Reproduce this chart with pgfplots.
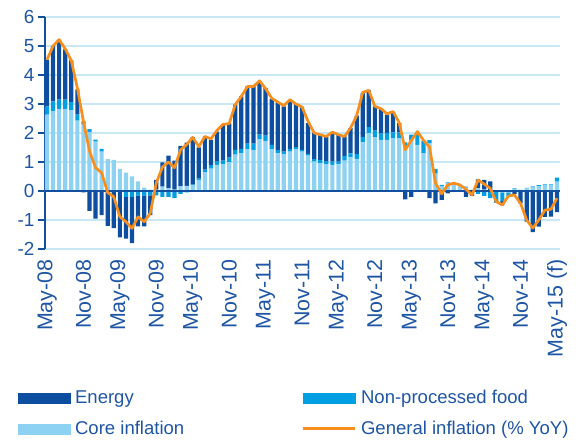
\documentclass[border=0pt]{standalone}
\usepackage{fontspec}
\setmainfont{Liberation Sans}
\usepackage{pgfplots}
\usepackage{pgfplotstable}
\pgfplotsset{compat=1.18}
\definecolor{energyc}{RGB}{13,78,160}
\definecolor{foodc}{RGB}{0,158,226}
\definecolor{corec}{RGB}{142,210,243}
\definecolor{genc}{RGB}{247,143,30}
\definecolor{axc}{RGB}{20,80,160}
\definecolor{gridc}{RGB}{200,232,246}
\definecolor{txtc}{RGB}{30,85,165}

\pgfplotstableread{
i core food energy gen
0 2.63 0.29 1.61 4.53
1 2.75 0.34 1.91 5.00
2 2.83 0.32 2.07 5.22
3 2.83 0.32 1.73 4.90
4 2.78 0.29 1.43 4.50
5 2.43 0.20 0.87 3.55
6 2.30 0.10 -0.05 2.40
7 2.03 0.10 -0.69 1.38
8 1.70 0.07 -0.95 0.80
9 1.36 0.09 -0.83 0.63
10 1.10 0.00 -1.20 -0.06
11 1.07 0.00 -1.28 -0.20
12 0.76 0.00 -1.60 -0.89
13 0.63 -0.20 -1.44 -1.06
14 0.50 -0.20 -1.60 -1.29
15 0.33 -0.15 -1.07 -0.89
16 0.12 -0.15 -1.07 -1.06
17 0.05 -0.15 -0.68 -0.77
18 0.05 -0.15 0.33 0.28
19 0.15 -0.20 0.84 0.82
20 0.10 -0.20 1.12 1.00
21 0.05 -0.25 1.00 0.80
22 0.17 -0.10 1.39 1.42
23 0.18 -0.05 1.49 1.60
24 0.20 0.02 1.64 1.85
25 0.38 0.05 1.07 1.53
26 0.65 0.09 1.14 1.88
27 0.77 0.12 0.87 1.80
28 0.90 0.11 1.04 2.09
29 0.92 0.13 1.23 2.30
30 0.99 0.16 1.17 2.32
31 1.25 0.17 1.56 2.98
32 1.30 0.15 1.81 3.26
33 1.44 0.19 1.98 3.60
34 1.42 0.21 1.98 3.60
35 1.79 0.15 1.84 3.80
36 1.73 0.18 1.64 3.53
37 1.44 0.15 1.58 3.20
38 1.30 0.12 1.64 3.07
39 1.28 0.08 1.56 2.94
40 1.36 0.09 1.68 3.15
41 1.44 0.07 1.49 3.00
42 1.36 0.06 1.48 2.90
43 1.22 0.06 1.06 2.40
44 1.01 0.09 0.90 2.00
45 0.96 0.11 0.87 1.94
46 0.93 0.08 0.85 1.88
47 0.90 0.11 1.01 2.03
48 0.92 0.09 0.93 1.94
49 1.05 0.16 0.67 1.88
50 1.16 0.14 0.87 2.17
51 1.11 0.17 1.32 2.60
52 1.68 0.19 1.51 3.40
53 2.00 0.20 1.27 3.47
54 1.86 0.22 0.84 2.92
55 1.76 0.22 0.86 2.84
56 1.76 0.24 0.63 2.66
57 1.82 0.20 0.69 2.74
58 1.82 0.20 0.32 2.36
59 1.51 0.17 -0.29 1.42
60 1.76 0.18 -0.20 1.74
61 1.59 0.35 0.06 2.05
62 1.30 0.43 0.00 1.75
63 1.65 0.10 -0.25 1.52
64 0.60 0.16 -0.43 0.27
65 0.18 0.03 -0.31 -0.10
66 0.28 0.02 -0.08 0.21
67 0.27 0.00 0.00 0.27
68 0.20 0.00 0.00 0.21
69 0.12 0.03 -0.20 0.06
70 0.05 0.00 -0.17 -0.14
71 0.10 -0.10 0.30 0.38
72 0.05 -0.17 0.33 0.24
73 0.03 -0.25 0.30 0.09
74 0.00 -0.35 -0.05 -0.37
75 -0.05 -0.30 -0.15 -0.48
76 -0.05 -0.15 0.00 -0.17
77 0.07 0.02 -0.10 -0.14
78 0.05 0.00 -0.43 -0.43
79 0.12 0.00 -1.06 -1.00
80 0.15 0.02 -1.42 -1.28
81 0.17 0.03 -1.23 -1.00
82 0.20 0.03 -0.89 -0.66
83 0.20 0.03 -0.88 -0.63
84 0.32 0.14 -0.73 -0.25
}\data

\begin{document}
\begin{tikzpicture}
\begin{axis}[name=ax, scale only axis, width=515bp, height=232bp,
  xmin=-0.33, xmax=84.49, ymin=-2, ymax=6,
  ybar stacked, stack negative=separate, bar width=4.2bp,
  axis x line*=bottom, axis y line*=left,
  x axis line style={draw=none},
  y axis line style={draw=axc, line width=1.3bp},
  xtick={0,6,...,84},
  xticklabels={May-08,Nov-08,May-09,Nov-09,May-10,Nov-10,May-11,Nov-11,May-12,Nov-12,May-13,Nov-13,May-14,Nov-14,May-15 (f)},
  x tick style={draw=none},
  xticklabel style={rotate=90, anchor=east, font=\fontsize{21.5}{23}\selectfont, text=txtc},
  ytick={-2,-1,...,6},
  y tick style={draw=axc, line width=1.3bp},
  tick align=outside, major tick length=7bp,
  yticklabel style={font=\fontsize{19}{22}\selectfont, text=txtc},
  /pgf/number format/assume math mode=true,
  ymajorgrids, grid style={gridc, line width=1.3bp},
  legend columns=2, legend cell align=left,
  legend style={at={(axis description cs:-0.0524,-0.600)}, anchor=north west,
    draw=none, fill=none, inner sep=0pt, font=\fontsize{18.6}{21}\selectfont,
    text=txtc, row sep=12bp},
]
\addplot[fill=corec, draw=none, forget plot] table[x=i, y=core]{\data};
\addplot[fill=foodc, draw=none, forget plot] table[x=i, y=food]{\data};
\addplot[fill=energyc, draw=none, forget plot] table[x=i, y=energy]{\data};
\addlegendimage{legend image code/.code={\fill[energyc] (0bp,-5bp) rectangle (52bp,5bp);}}
\addlegendentry{\hspace{2.5bp}\makebox[225bp][l]{Energy}}
\addlegendimage{legend image code/.code={\fill[foodc] (0bp,-5bp) rectangle (52bp,5bp);}}
\addlegendentry{\hspace{2.5bp}Non-processed food}
\addlegendimage{legend image code/.code={\fill[corec] (0bp,-5bp) rectangle (52bp,5bp);}}
\addlegendentry{\hspace{2.5bp}\makebox[225bp][l]{Core inflation}}
\addlegendimage{legend image code/.code={\draw[genc, line width=2.5bp] (0bp,0bp) -- (52bp,0bp);}}
\addlegendentry{\hspace{2.5bp}General inflation (\% YoY)}
\end{axis}
\begin{axis}[scale only axis, width=515bp, height=232bp,
  xmin=-0.33, xmax=84.49, ymin=-2, ymax=6, hide axis]
\draw[axc, line width=1.8bp] (axis cs:-0.33,0) -- (axis cs:84.49,0);
\addplot[genc, line width=2.7bp, line join=round, mark=none] table[x=i, y=gen]{\data};
\end{axis}
\pgfresetboundingbox
\path ([shift={(-45bp,-192bp)}]ax.south west) rectangle ([shift={(16bp,17bp)}]ax.north east);
\end{tikzpicture}
\end{document}
